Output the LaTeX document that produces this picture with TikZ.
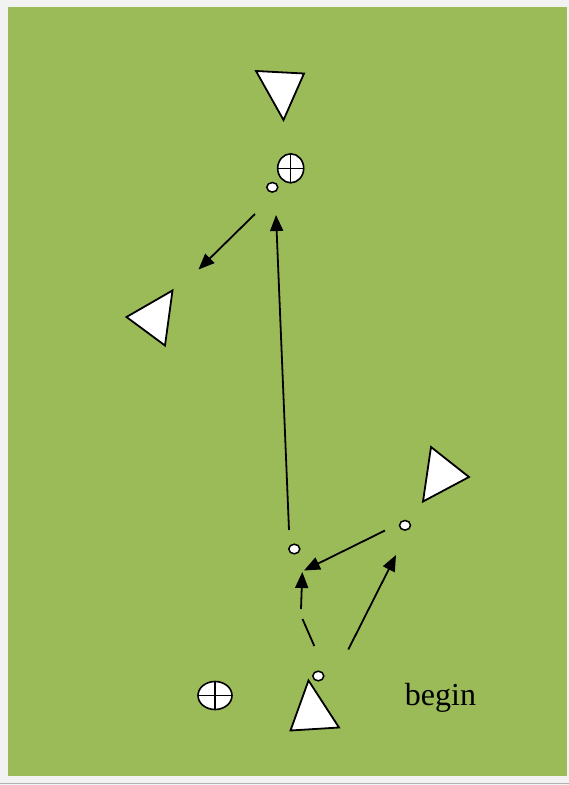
\documentclass[tikz,border=0pt]{standalone}
\usepackage{fontspec}
\setmainfont{Liberation Serif}
\usetikzlibrary{arrows.meta}
\definecolor{pagebg}{HTML}{F2F2F2}
\definecolor{field}{HTML}{9BBB59}
\begin{document}
\begin{tikzpicture}[x=1pt,y=-1pt,
  tri/.style={draw=black,fill=white,line width=1.8pt,line join=miter},
  ball/.style={draw=black,fill=white,line width=1.5pt},
  cone/.style={draw=black,fill=white,line width=1.6pt},
  move/.style={draw=black,line width=1.8pt,-{Triangle[length=16pt,width=13pt]}},
  plain/.style={draw=black,line width=1.8pt}]
\useasboundingbox (0,0) rectangle (569,785);
\fill[pagebg] (0,0) rectangle (569,785);
\fill[field] (8,7) rectangle (567,776);
\draw[gray!60,line width=0.8pt] (0,783.5) -- (569,783.5);
% players (triangles)
\draw[tri] (256,71) -- (304,73.5) -- (283.5,120) -- cycle;
\draw[tri] (126.5,317) -- (172.5,290.5) -- (165,345.5) -- cycle;
\draw[tri] (431,447) -- (469,477) -- (423,501.5) -- cycle;
\draw[tri] (308.5,680.5) -- (339,727.5) -- (290.5,730.5) -- cycle;
% balls
\draw[ball] (272.3,187.3) ellipse (5.5 and 4.8);
\draw[ball] (405,525.3) ellipse (5.5 and 4.8);
\draw[ball] (294.3,549) ellipse (5.5 and 4.8);
\draw[ball] (318.3,676) ellipse (5.5 and 4.8);
% cones with cross
\draw[cone] (290.7,168.3) ellipse (13 and 14.5);
\draw[line width=1.5pt] (277.7,168.3) -- (303.7,168.3) (290.7,153.8) -- (290.7,182.8);
\draw[cone] (215,695.5) ellipse (17 and 14);
\draw[line width=1.5pt] (198,695.5) -- (232,695.5) (215,681.5) -- (215,709.5);
% coordinates for movement lines
\coordinate (a1) at (255,214);
\coordinate (a2) at (198.5,269.5);
\coordinate (b1) at (289,530);
\coordinate (b2) at (276,215);
\coordinate (c1) at (385,530.5);
\coordinate (c2) at (304,570.5);
\coordinate (d1) at (314.3,646);
\coordinate (d2) at (302.5,619);
\coordinate (d3) at (301,609);
\coordinate (d4) at (302.3,572);
\coordinate (e1) at (348.3,649.5);
\coordinate (e2) at (396,555);
\path[move] (a1) -- (a2);
\path[move] (b1) -- (b2);
\path[move] (c1) -- (c2);
\path[plain] (d1) -- (d2);
\path[move] (d3) -- (d4);
\path[move] (e1) -- (e2);
\node[font=\fontsize{32}{38}\selectfont,inner sep=0pt] (lbl) at (440.5,698) {begin};
\end{tikzpicture}
\end{document}
